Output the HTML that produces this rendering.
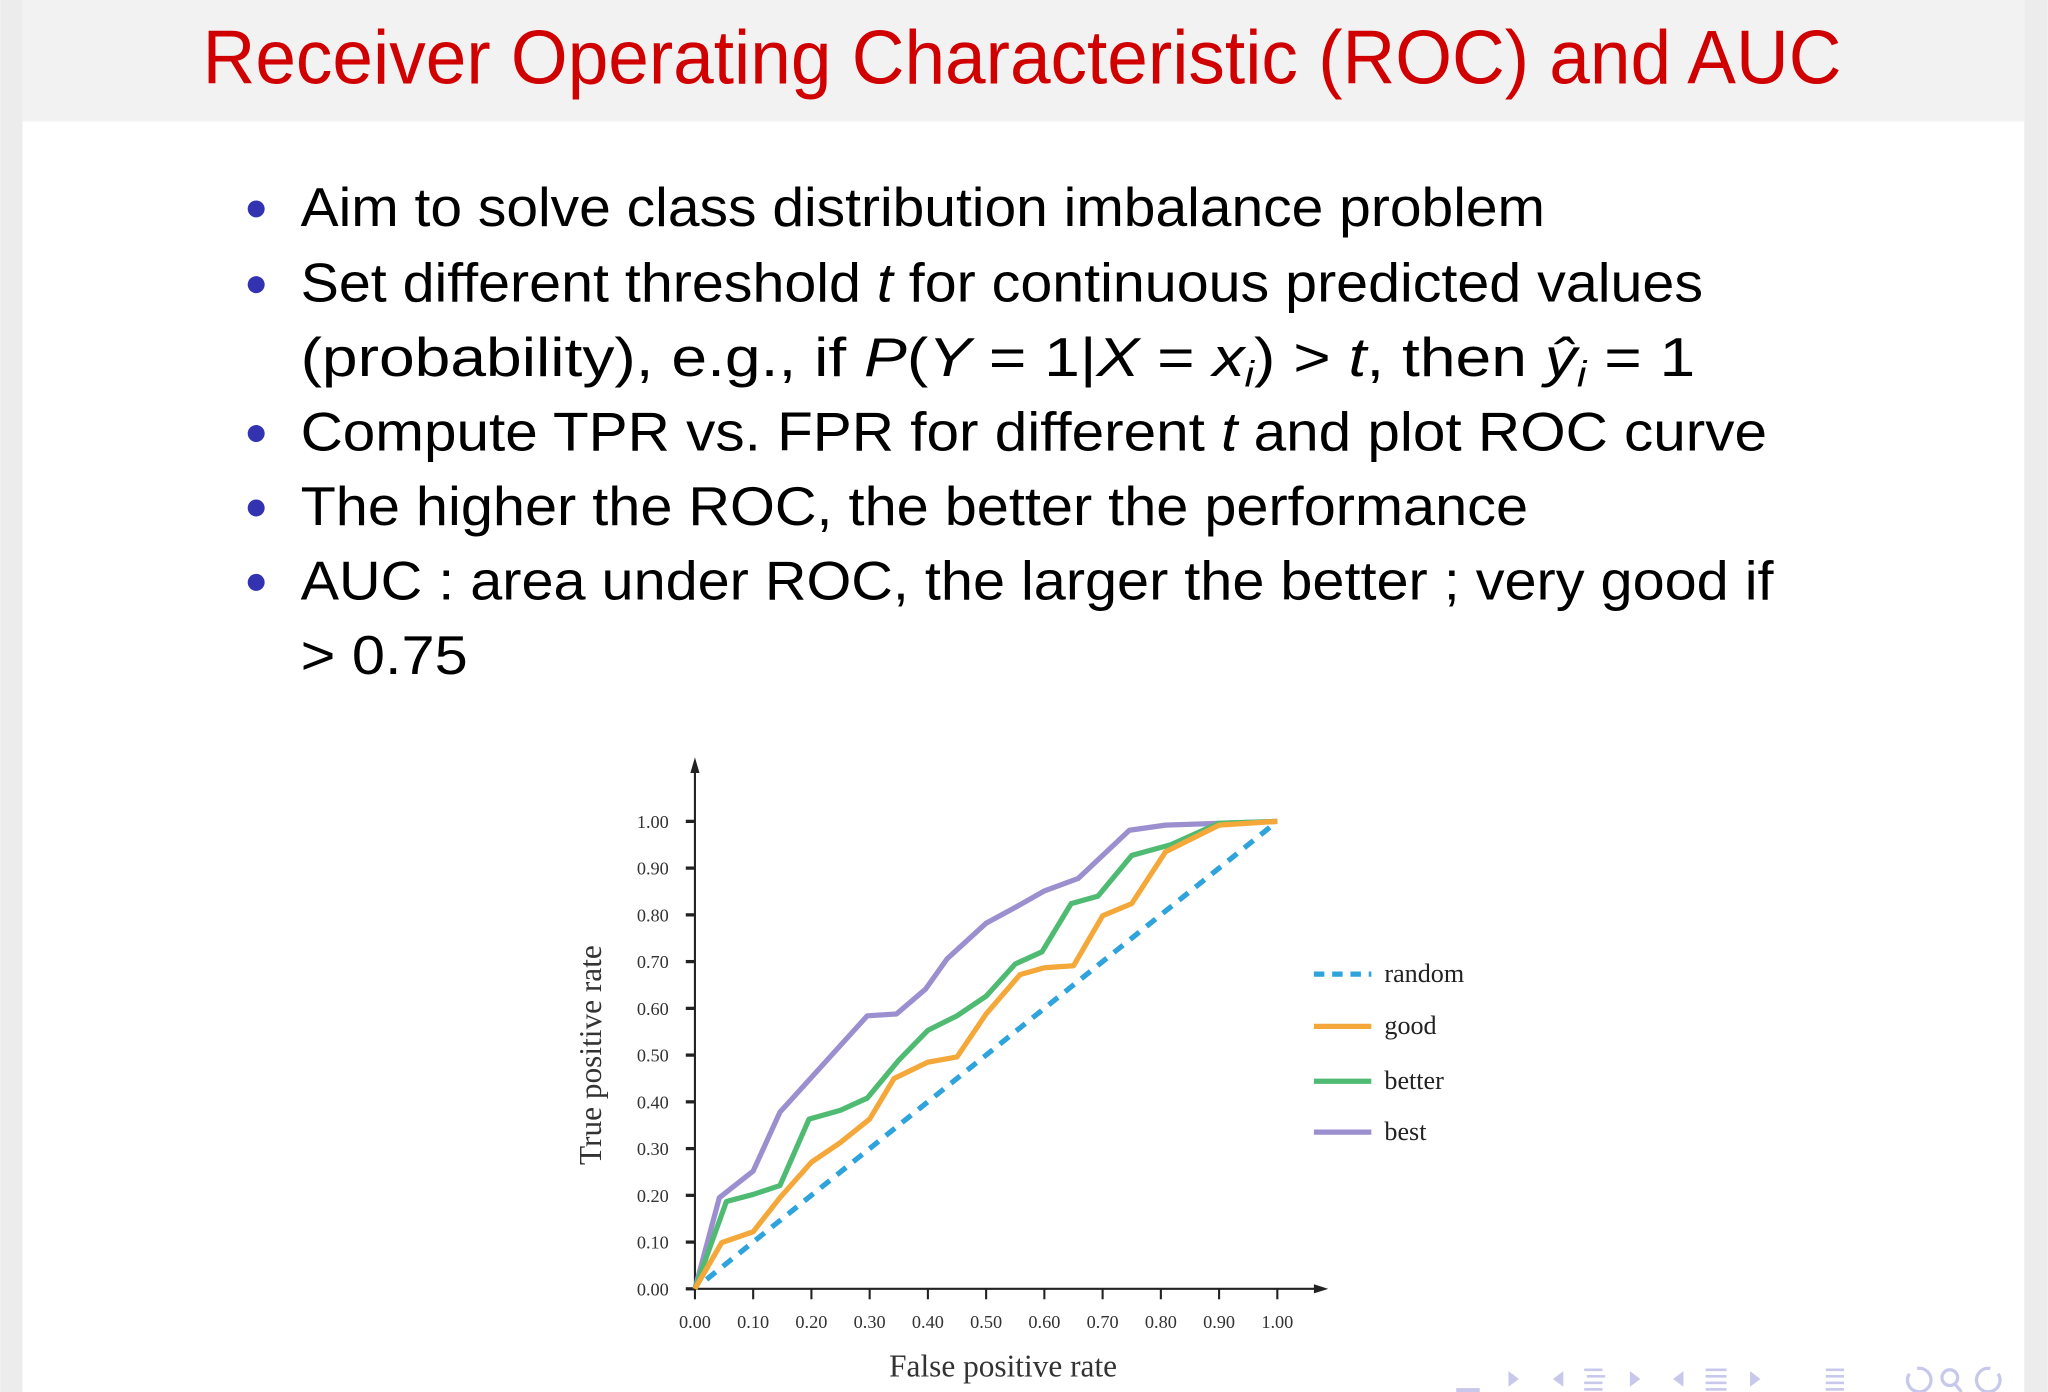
<!DOCTYPE html>
<html><head><meta charset="utf-8"><style>
html,body{margin:0;padding:0;background:#fff;}
svg{display:block;}
</style></head><body>
<svg id="root" width="2048" height="1392" viewBox="0 0 1568 1066" xmlns="http://www.w3.org/2000/svg">
<rect x="0" y="0" width="1568" height="1066" fill="#ffffff"/>
<rect x="0" y="0" width="17" height="1066" fill="#ececec"/>
<rect x="1550" y="0" width="18" height="1066" fill="#ececec"/>
<rect x="17" y="0" width="1533" height="93" fill="#f2f2f2"/>
<text x="155" y="64" font-family="Liberation Sans, sans-serif" font-size="58" fill="#d00000" textLength="1255" lengthAdjust="spacingAndGlyphs">Receiver Operating Characteristic (ROC) and AUC</text>

<g font-family="Liberation Sans, sans-serif" font-size="42" fill="#000">
<circle cx="196" cy="160" r="6.5" fill="#3333b2"/>
<text x="230" y="173" textLength="953" lengthAdjust="spacingAndGlyphs">Aim to solve class distribution imbalance problem</text>
<circle cx="196" cy="218" r="6.5" fill="#3333b2"/>
<text x="230" y="231" textLength="1074" lengthAdjust="spacingAndGlyphs">Set different threshold <tspan font-style="italic">t</tspan> for continuous predicted values</text>
<text x="230" y="288" textLength="1068" lengthAdjust="spacingAndGlyphs">(probability), e.g., if <tspan font-style="italic">P</tspan>(<tspan font-style="italic">Y</tspan> = 1|<tspan font-style="italic">X</tspan> = <tspan font-style="italic">x</tspan><tspan font-style="italic" font-size="28" dy="8">i</tspan><tspan dy="-8">) &gt; </tspan><tspan font-style="italic">t</tspan>, then <tspan font-style="italic">ŷ</tspan><tspan font-style="italic" font-size="28" dy="8">i</tspan><tspan dy="-8"> = 1</tspan></text>
<circle cx="196" cy="332" r="6.5" fill="#3333b2"/>
<text x="230" y="345" textLength="1123" lengthAdjust="spacingAndGlyphs">Compute TPR vs. FPR for different <tspan font-style="italic">t</tspan> and plot ROC curve</text>
<circle cx="196" cy="389" r="6.5" fill="#3333b2"/>
<text x="230" y="402" textLength="940" lengthAdjust="spacingAndGlyphs">The higher the ROC, the better the performance</text>
<circle cx="196" cy="446" r="6.5" fill="#3333b2"/>
<text x="230" y="459" textLength="1128" lengthAdjust="spacingAndGlyphs">AUC : area under ROC, the larger the better ; very good if</text>
<text x="230" y="516" textLength="128" lengthAdjust="spacingAndGlyphs">&gt; 0.75</text>
</g>

<g id="chart"></g>

<g fill="#c8c8ec">
<rect x="1115" y="1063" width="18" height="3"/>
<polygon points="1155,1050 1163,1056 1155,1062"/>
<polygon points="1197,1050 1189,1056 1197,1062"/>
<g><rect x="1213" y="1048" width="14" height="2"/><rect x="1215" y="1053" width="14" height="2"/><rect x="1213" y="1058" width="14" height="2"/><rect x="1213" y="1063" width="14" height="2"/></g>
<polygon points="1248,1050 1256,1056 1248,1062"/>
<polygon points="1289,1050 1281,1056 1289,1062"/>
<g><rect x="1306" y="1048" width="16" height="2"/><rect x="1306" y="1053" width="16" height="2"/><rect x="1306" y="1058" width="16" height="2"/><rect x="1306" y="1063" width="16" height="2"/></g>
<polygon points="1340,1050 1348,1056 1340,1062"/>
<g><rect x="1398" y="1048" width="14" height="2"/><rect x="1398" y="1053" width="14" height="2"/><rect x="1398" y="1058" width="14" height="2"/><rect x="1398" y="1063" width="14" height="2"/></g>
<g fill="none" stroke="#c8c8ec" stroke-width="2.5">
<path d="M1462,1052 a9,9 0 1 0 6,-4"/>
<g><circle cx="1493" cy="1055" r="6"/><line x1="1497" y1="1060" x2="1502" y2="1066"/></g>
<path d="M1530,1052 a9,9 0 1 1 -6,-4"/>
</g>
</g>
</svg>
<script>
const xTicks = [0,0.1,0.2,0.3,0.4,0.5,0.6,0.7,0.8,0.9,1.0];
const yTicks = [0,0.1,0.2,0.3,0.4,0.5,0.6,0.7,0.8,0.9,1.0];
const seriesNames = ["random","good","better","best"];
const randomX = [0.02,0.99];
const randomY = [0.02,0.99];
const goodX = [0,0.046,0.1,0.146,0.2,0.25,0.3,0.342,0.4,0.45,0.5,0.558,0.6,0.65,0.7,0.75,0.808,0.9,1];
const goodY = [0,0.099,0.122,0.195,0.271,0.313,0.363,0.45,0.485,0.496,0.588,0.672,0.687,0.691,0.798,0.824,0.935,0.992,1];
const betterX = [0,0.054,0.1,0.146,0.196,0.25,0.296,0.35,0.4,0.45,0.5,0.55,0.596,0.646,0.692,0.75,0.817,0.9,1];
const betterY = [0,0.187,0.202,0.221,0.363,0.382,0.408,0.489,0.553,0.584,0.626,0.695,0.721,0.824,0.84,0.927,0.95,0.996,1];
const bestX = [0,0.042,0.1,0.146,0.296,0.346,0.396,0.433,0.5,0.546,0.6,0.658,0.746,0.808,1];
const bestY = [0,0.195,0.252,0.378,0.584,0.588,0.641,0.706,0.782,0.813,0.851,0.878,0.981,0.992,1];

const NS = "http://www.w3.org/2000/svg";
const X0 = 532, X1 = 978, Y0 = 987, Y1 = 629;
function sx(v){ return X0 + v*(X1-X0); }
function sy(v){ return Y0 - v*(Y0-Y1); }
const chart = document.getElementById('chart');
function mk(tag, attrs, parent){
  const e = document.createElementNS(NS, tag);
  for (const k in attrs) e.setAttribute(k, attrs[k]);
  (parent||chart).appendChild(e);
  return e;
}
const serif = "Liberation Serif, serif";

// axes
let ax = mk('line',{x1:X0,y1:Y0,x2:X0,y2:588,stroke:'#222','stroke-width':1.6});


let ah = mk('polygon',{points:`${X0-3.5},592 ${X0},580 ${X0+3.5},592`,fill:'#222'});


let bx = mk('line',{x1:X0-6,y1:Y0,x2:1010,y2:Y0,stroke:'#222','stroke-width':1.6});


let bh = mk('polygon',{points:`1006,${Y0-3.5} 1017,${Y0} 1006,${Y0+3.5}`,fill:'#222'});



yTicks.forEach(v=>{
  const t = mk('line',{x1:X0-7,y1:sy(v),x2:X0,y2:sy(v),stroke:'#222','stroke-width':2.5});
  
  
  const l = mk('text',{x:512,y:sy(v)+5,'text-anchor':'end','font-family':serif,'font-size':14,fill:'#333'});
  l.textContent = v.toFixed(2);
  
  
});
xTicks.forEach(v=>{
  const t = mk('line',{x1:sx(v),y1:Y0,x2:sx(v),y2:Y0+8,stroke:'#222','stroke-width':1.6});
  
  
  const l = mk('text',{x:sx(v),y:1017,'text-anchor':'middle','font-family':serif,'font-size':14,fill:'#333'});
  l.textContent = v.toFixed(2);
  
  
});
const xt = mk('text',{x:768,y:1054,'text-anchor':'middle','font-family':serif,'font-size':24,fill:'#333'});
xt.textContent = 'False positive rate';


const yt = mk('text',{x:0,y:0,'text-anchor':'middle','font-family':serif,'font-size':24,fill:'#333',transform:'translate(460,808) rotate(-90)'});
yt.textContent = 'True positive rate';



const colors = ['#2ea3dc','#f5a83a','#4fbb72','#9b8fd0'];
const xs = [randomX,goodX,betterX,bestX];
const ys = [randomY,goodY,betterY,bestY];
[3,2,1,0].forEach(i=>{
  const pts = xs[i].map((x,j)=>sx(x).toFixed(1)+','+sy(ys[i][j]).toFixed(1)).join(' ');
  const attrs = {points:pts,fill:'none',stroke:colors[i],'stroke-width':4,'stroke-linejoin':'round'};
  if(i===0){ attrs['stroke-dasharray']='9 7'; }
  const p = mk('polyline',attrs);
  
  
});

const legY = [746,786,828,867];
seriesNames.forEach((n,i)=>{
  const la = {x1:1006,y1:legY[i],x2:1050,y2:legY[i],stroke:colors[i],'stroke-width':4};
  if(i===0){ la['stroke-dasharray']='8 6'; }
  const ln = mk('line',la);
  
  
  const t = mk('text',{x:1060,y:legY[i]+6,'font-family':serif,'font-size':20,fill:'#222'});
  t.textContent = n;
  
  
});
</script>
</body></html>
